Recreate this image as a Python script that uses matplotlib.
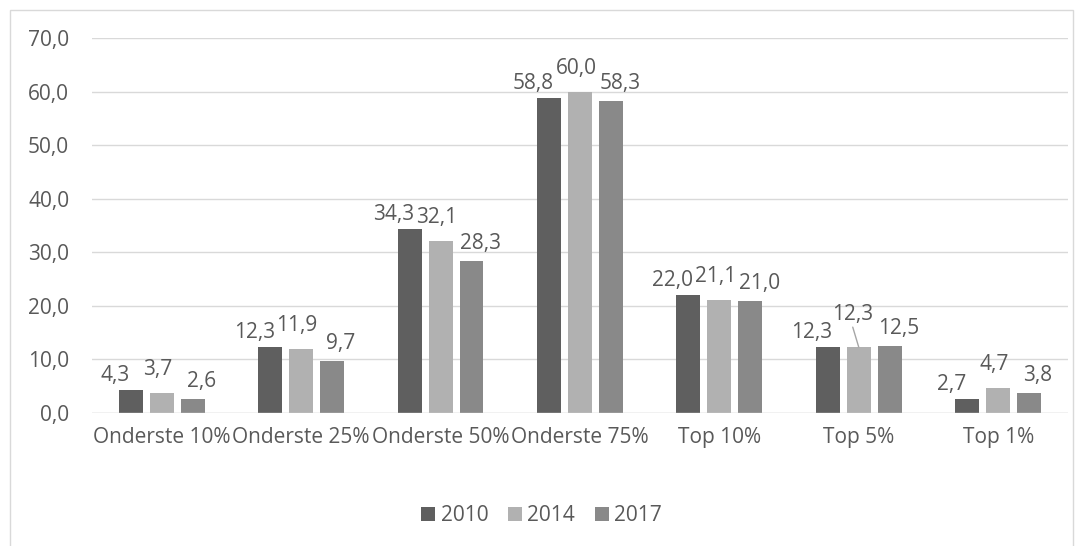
import matplotlib.pyplot as plt
import matplotlib.patches as patches
import numpy as np

categories = ['Onderste 10%', 'Onderste 25%', 'Onderste 50%', 'Onderste 75%',
              'Top 10%', 'Top 5%', 'Top 1%']
years = ['2010', '2014', '2017']
v2010 = [4.3, 12.3, 34.3, 58.8, 22.0, 12.3, 2.7]
v2014 = [3.7, 11.9, 32.1, 60.0, 21.1, 12.3, 4.7]
v2017 = [2.6, 9.7, 28.3, 58.3, 21.0, 12.5, 3.8]
colors = ['#5f5f5f', '#b1b1b1', '#898989']
txt = '#595959'
fs = 15

plt.rcParams['font.family'] = ['Open Sans', 'DejaVu Sans']

fig = plt.figure(figsize=(10.83, 5.46), dpi=100)
ax = fig.add_axes([0.085, 0.2436, 0.901, 0.6864])

x = np.arange(len(categories))
w = 0.172
step = 0.222
# label offsets per series (pixels), labels are spread apart like in Excel
lab_dx = [-16, -4, 9]
lab_dy = [9, 18, 12]
series = [v2010, v2014, v2017]
for k, vals in enumerate(series):
    xs = x + (k - 1) * step
    ax.bar(xs, vals, width=w, color=colors[k], label=years[k], zorder=3)
    for i, v in enumerate(vals):
        lab = f'{v:.1f}'.replace('.', ',')
        if categories[i] == 'Top 5%' and k == 1:
            # label pushed up with a leader line
            ax.annotate(lab, xy=(xs[i], v), xytext=(-6, 27), textcoords='offset pixels',
                        ha='center', va='baseline', fontsize=fs, color=txt)
            ax.annotate('', xy=(xs[i], v), xytext=(-6, 20), textcoords='offset pixels',
                        arrowprops=dict(arrowstyle='-', color='#a6a6a6', lw=1,
                                        shrinkA=0, shrinkB=0))
        else:
            ax.annotate(lab, xy=(xs[i], v), xytext=(lab_dx[k], lab_dy[k]),
                        textcoords='offset pixels',
                        ha='center', va='baseline', fontsize=fs, color=txt)

ax.set_xlim(-0.5, len(categories) - 0.5)
ax.set_ylim(0, 70)
ax.set_yticks(np.arange(0, 71, 10))
ax.set_yticklabels([f'{t:.1f}'.replace('.', ',') for t in np.arange(0, 71, 10)])
ax.set_xticks(x)
ax.set_xticklabels(categories)
ax.tick_params(axis='both', length=0, labelsize=fs, colors=txt)
ax.tick_params(axis='y', pad=16.5)
ax.tick_params(axis='x', pad=10)
ax.grid(axis='y', color='#d9d9d9', lw=1, zorder=0)
for s in ax.spines.values():
    s.set_visible(False)
ax.axhline(0, color='#d9d9d9', lw=1, zorder=4)

leg = fig.legend(loc='center', bbox_to_anchor=(0.5, 0.055), ncol=3, frameon=False,
                 fontsize=fs, handlelength=0.67, handleheight=0.67,
                 handletextpad=0.25, columnspacing=0.95)
for t in leg.get_texts():
    t.set_color(txt)

border = patches.Rectangle((10 / 1083, -0.01), 1063 / 1083, 1 - 10 / 546 + 0.01,
                           transform=fig.transFigure, fill=False,
                           edgecolor='#d9d9d9', lw=1)
fig.patches.append(border)

fig.savefig('out.png', dpi=100)
